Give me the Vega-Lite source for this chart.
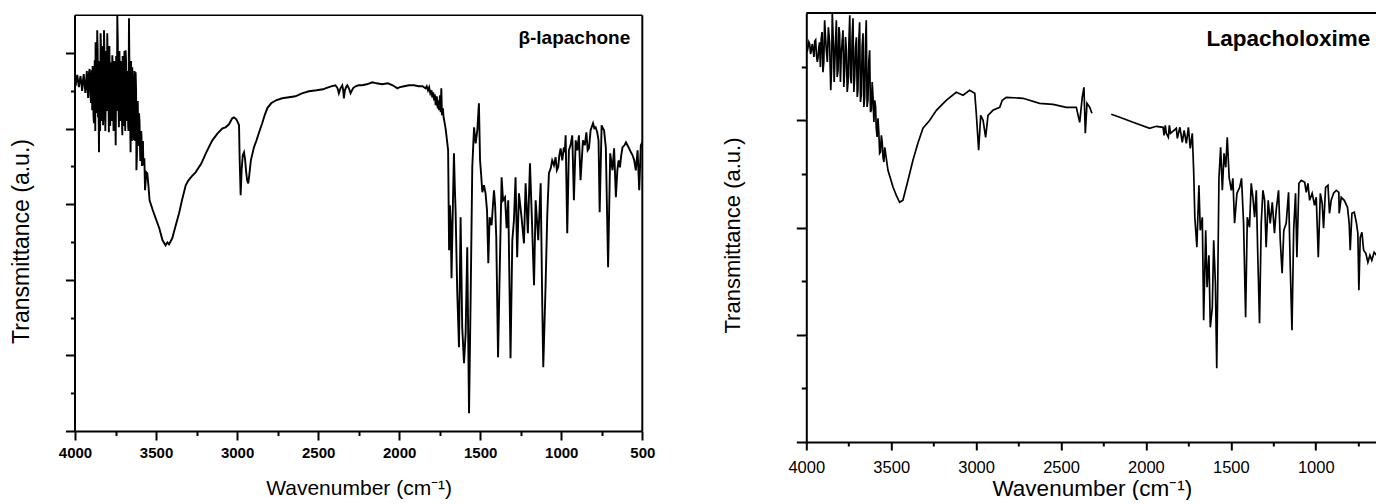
{
  "$schema": "https://vega.github.io/schema/vega-lite/v6.json",
  "background": "white",
  "padding": {"left": 10, "top": 12, "right": 0, "bottom": 0},
  "bounds": "flush",
  "spacing": 163.3,
  "config": {
    "view": {"stroke": null},
    "axis": {"grid": false, "domainColor": "black", "tickColor": "black", "labelColor": "black", "titleColor": "black", "labelFont": "Liberation Sans", "titleFont": "Liberation Sans", "titleFontWeight": "normal", "labelOverlap": false, "labelFlush": false}
  },
  "datasets": {
    "lap": [
      {"wavenumber":4000,"transmittance":350.7},{"wavenumber":3990,"transmittance":352.7},{"wavenumber":3980,"transmittance":348.7},{"wavenumber":3970,"transmittance":350.7},{"wavenumber":3960,"transmittance":346.7},{"wavenumber":3950,"transmittance":351.7},{"wavenumber":3940,"transmittance":344.7},{"wavenumber":3930,"transmittance":352.7},{"wavenumber":3923,"transmittance":342.7},{"wavenumber":3915,"transmittance":356.7},{"wavenumber":3905,"transmittance":335.7},{"wavenumber":3897,"transmittance":360.7},{"wavenumber":3894,"transmittance":320.7},{"wavenumber":3889,"transmittance":350.7},{"wavenumber":3883,"transmittance":307.7},{"wavenumber":3878,"transmittance":370.7},{"wavenumber":3873,"transmittance":388.7},{"wavenumber":3868,"transmittance":330.7},{"wavenumber":3863,"transmittance":400.7},{"wavenumber":3858,"transmittance":313.7},{"wavenumber":3852,"transmittance":278.7},{"wavenumber":3847,"transmittance":360.7},{"wavenumber":3842,"transmittance":397.7},{"wavenumber":3837,"transmittance":325.7},{"wavenumber":3832,"transmittance":370.7},{"wavenumber":3827,"transmittance":305.7},{"wavenumber":3821,"transmittance":400.7},{"wavenumber":3816,"transmittance":340.7},{"wavenumber":3811,"transmittance":323.7},{"wavenumber":3806,"transmittance":365.7},{"wavenumber":3801,"transmittance":397.7},{"wavenumber":3796,"transmittance":335.7},{"wavenumber":3791,"transmittance":298.7},{"wavenumber":3786,"transmittance":358.7},{"wavenumber":3780,"transmittance":330.7},{"wavenumber":3775,"transmittance":368.7},{"wavenumber":3770,"transmittance":375.7},{"wavenumber":3765,"transmittance":320.7},{"wavenumber":3760,"transmittance":355.7},{"wavenumber":3755,"transmittance":310.7},{"wavenumber":3749,"transmittance":285.7},{"wavenumber":3744,"transmittance":350.7},{"wavenumber":3739,"transmittance":415.7},{"wavenumber":3734,"transmittance":335.7},{"wavenumber":3729,"transmittance":303.7},{"wavenumber":3724,"transmittance":360.7},{"wavenumber":3719,"transmittance":367.7},{"wavenumber":3714,"transmittance":325.7},{"wavenumber":3708,"transmittance":295.7},{"wavenumber":3703,"transmittance":352.7},{"wavenumber":3698,"transmittance":330.7},{"wavenumber":3693,"transmittance":365.7},{"wavenumber":3688,"transmittance":380.7},{"wavenumber":3683,"transmittance":315.7},{"wavenumber":3678,"transmittance":345.7},{"wavenumber":3672,"transmittance":305.7},{"wavenumber":3667,"transmittance":412.7},{"wavenumber":3662,"transmittance":320.7},{"wavenumber":3657,"transmittance":278.7},{"wavenumber":3652,"transmittance":340.7},{"wavenumber":3647,"transmittance":363.7},{"wavenumber":3642,"transmittance":310.7},{"wavenumber":3636,"transmittance":290.7},{"wavenumber":3631,"transmittance":345.7},{"wavenumber":3626,"transmittance":358.7},{"wavenumber":3621,"transmittance":260.7},{"wavenumber":3616,"transmittance":320.7},{"wavenumber":3610,"transmittance":300.7},{"wavenumber":3605,"transmittance":317.7},{"wavenumber":3600,"transmittance":290.7},{"wavenumber":3595,"transmittance":277.7},{"wavenumber":3590,"transmittance":295.7},{"wavenumber":3585,"transmittance":287.7},{"wavenumber":3578,"transmittance":265.7},{"wavenumber":3572,"transmittance":272.7},{"wavenumber":3568,"transmittance":240.7},{"wavenumber":3560,"transmittance":258.7},{"wavenumber":3554,"transmittance":257.7},{"wavenumber":3547,"transmittance":245.7},{"wavenumber":3540,"transmittance":230.7},{"wavenumber":3530,"transmittance":225.7},{"wavenumber":3520,"transmittance":220.7},{"wavenumber":3502,"transmittance":212.7},{"wavenumber":3480,"transmittance":202.7},{"wavenumber":3460,"transmittance":190.7},{"wavenumber":3441,"transmittance":185.7},{"wavenumber":3430,"transmittance":188.7},{"wavenumber":3420,"transmittance":186.7},{"wavenumber":3400,"transmittance":192.7},{"wavenumber":3380,"transmittance":204.7},{"wavenumber":3358,"transmittance":217.7},{"wavenumber":3340,"transmittance":230.7},{"wavenumber":3317,"transmittance":245.7},{"wavenumber":3300,"transmittance":250.7},{"wavenumber":3280,"transmittance":254.7},{"wavenumber":3256,"transmittance":258.7},{"wavenumber":3220,"transmittance":267.7},{"wavenumber":3190,"transmittance":278.7},{"wavenumber":3153,"transmittance":290.7},{"wavenumber":3120,"transmittance":297.7},{"wavenumber":3090,"transmittance":302.7},{"wavenumber":3071,"transmittance":303.7},{"wavenumber":3050,"transmittance":306.7},{"wavenumber":3030,"transmittance":312.7},{"wavenumber":3019,"transmittance":313.7},{"wavenumber":3005,"transmittance":311.7},{"wavenumber":2995,"transmittance":308.7},{"wavenumber":2988,"transmittance":305.7},{"wavenumber":2984,"transmittance":270.7},{"wavenumber":2978,"transmittance":235.7},{"wavenumber":2972,"transmittance":260.7},{"wavenumber":2965,"transmittance":275.7},{"wavenumber":2957,"transmittance":278.7},{"wavenumber":2950,"transmittance":270.7},{"wavenumber":2945,"transmittance":260.7},{"wavenumber":2938,"transmittance":250.7},{"wavenumber":2931,"transmittance":247.7},{"wavenumber":2925,"transmittance":255.7},{"wavenumber":2915,"transmittance":270.7},{"wavenumber":2896,"transmittance":283.7},{"wavenumber":2880,"transmittance":290.7},{"wavenumber":2860,"transmittance":300.7},{"wavenumber":2845,"transmittance":307.7},{"wavenumber":2830,"transmittance":315.7},{"wavenumber":2814,"transmittance":322.7},{"wavenumber":2790,"transmittance":327.7},{"wavenumber":2760,"transmittance":330.7},{"wavenumber":2722,"transmittance":332.7},{"wavenumber":2680,"transmittance":333.7},{"wavenumber":2640,"transmittance":334.7},{"wavenumber":2600,"transmittance":337.7},{"wavenumber":2557,"transmittance":339.7},{"wavenumber":2510,"transmittance":340.7},{"wavenumber":2470,"transmittance":341.7},{"wavenumber":2455,"transmittance":342.7},{"wavenumber":2420,"transmittance":344.7},{"wavenumber":2393,"transmittance":345.7},{"wavenumber":2380,"transmittance":342.7},{"wavenumber":2372,"transmittance":337.7},{"wavenumber":2362,"transmittance":342.7},{"wavenumber":2351,"transmittance":345.7},{"wavenumber":2345,"transmittance":340.7},{"wavenumber":2341,"transmittance":332.7},{"wavenumber":2335,"transmittance":340.7},{"wavenumber":2325,"transmittance":344.7},{"wavenumber":2320,"transmittance":345.7},{"wavenumber":2310,"transmittance":342.7},{"wavenumber":2300,"transmittance":337.7},{"wavenumber":2285,"transmittance":342.7},{"wavenumber":2269,"transmittance":344.7},{"wavenumber":2250,"transmittance":345.7},{"wavenumber":2228,"transmittance":345.7},{"wavenumber":2200,"transmittance":346.7},{"wavenumber":2165,"transmittance":348.7},{"wavenumber":2140,"transmittance":347.7},{"wavenumber":2105,"transmittance":346.7},{"wavenumber":2070,"transmittance":347.7},{"wavenumber":2040,"transmittance":345.7},{"wavenumber":2011,"transmittance":342.7},{"wavenumber":2000,"transmittance":343.7},{"wavenumber":1970,"transmittance":344.7},{"wavenumber":1940,"transmittance":345.7},{"wavenumber":1908,"transmittance":345.7},{"wavenumber":1880,"transmittance":344.7},{"wavenumber":1856,"transmittance":344.7},{"wavenumber":1837,"transmittance":342.7},{"wavenumber":1830,"transmittance":344.7},{"wavenumber":1822,"transmittance":340.7},{"wavenumber":1815,"transmittance":343.7},{"wavenumber":1808,"transmittance":337.7},{"wavenumber":1800,"transmittance":340.7},{"wavenumber":1796,"transmittance":333.7},{"wavenumber":1790,"transmittance":338.7},{"wavenumber":1785,"transmittance":330.7},{"wavenumber":1780,"transmittance":336.7},{"wavenumber":1775,"transmittance":325.7},{"wavenumber":1768,"transmittance":334.7},{"wavenumber":1762,"transmittance":322.7},{"wavenumber":1758,"transmittance":330.7},{"wavenumber":1754,"transmittance":320.7},{"wavenumber":1748,"transmittance":335.7},{"wavenumber":1744,"transmittance":318.7},{"wavenumber":1740,"transmittance":342.7},{"wavenumber":1736,"transmittance":315.7},{"wavenumber":1730,"transmittance":322.7},{"wavenumber":1726,"transmittance":313.7},{"wavenumber":1720,"transmittance":308.7},{"wavenumber":1712,"transmittance":300.7},{"wavenumber":1705,"transmittance":290.7},{"wavenumber":1698,"transmittance":280.7},{"wavenumber":1692,"transmittance":180.7},{"wavenumber":1687,"transmittance":225.7},{"wavenumber":1682,"transmittance":207.7},{"wavenumber":1677,"transmittance":152.7},{"wavenumber":1668,"transmittance":230.7},{"wavenumber":1662,"transmittance":277.7},{"wavenumber":1657,"transmittance":245.7},{"wavenumber":1652,"transmittance":220.7},{"wavenumber":1642,"transmittance":140.7},{"wavenumber":1631,"transmittance":83.7},{"wavenumber":1621,"transmittance":213.7},{"wavenumber":1611,"transmittance":103.7},{"wavenumber":1600,"transmittance":67.7},{"wavenumber":1590,"transmittance":97.7},{"wavenumber":1580,"transmittance":183.7},{"wavenumber":1569,"transmittance":17.7},{"wavenumber":1559,"transmittance":133.7},{"wavenumber":1549,"transmittance":263.7},{"wavenumber":1538,"transmittance":303.7},{"wavenumber":1528,"transmittance":287.7},{"wavenumber":1518,"transmittance":300.7},{"wavenumber":1508,"transmittance":327.7},{"wavenumber":1501,"transmittance":270.7},{"wavenumber":1494,"transmittance":255.7},{"wavenumber":1487,"transmittance":238.7},{"wavenumber":1477,"transmittance":245.7},{"wavenumber":1467,"transmittance":237.7},{"wavenumber":1458,"transmittance":220.7},{"wavenumber":1450,"transmittance":167.7},{"wavenumber":1442,"transmittance":213.7},{"wavenumber":1430,"transmittance":205.7},{"wavenumber":1415,"transmittance":240.7},{"wavenumber":1408,"transmittance":225.7},{"wavenumber":1401,"transmittance":193.7},{"wavenumber":1390,"transmittance":73.7},{"wavenumber":1380,"transmittance":157.7},{"wavenumber":1368,"transmittance":253.7},{"wavenumber":1359,"transmittance":230.7},{"wavenumber":1347,"transmittance":233.7},{"wavenumber":1337,"transmittance":202.7},{"wavenumber":1327,"transmittance":230.7},{"wavenumber":1313,"transmittance":72.7},{"wavenumber":1302,"transmittance":190.7},{"wavenumber":1292,"transmittance":210.7},{"wavenumber":1282,"transmittance":253.7},{"wavenumber":1272,"transmittance":173.7},{"wavenumber":1261,"transmittance":237.7},{"wavenumber":1253,"transmittance":225.7},{"wavenumber":1245,"transmittance":213.7},{"wavenumber":1230,"transmittance":187.7},{"wavenumber":1220,"transmittance":247.7},{"wavenumber":1206,"transmittance":197.7},{"wavenumber":1193,"transmittance":267.7},{"wavenumber":1183,"transmittance":220.7},{"wavenumber":1168,"transmittance":145.7},{"wavenumber":1158,"transmittance":230.7},{"wavenumber":1142,"transmittance":190.7},{"wavenumber":1127,"transmittance":247.7},{"wavenumber":1117,"transmittance":123.7},{"wavenumber":1111,"transmittance":63.7},{"wavenumber":1097,"transmittance":143.7},{"wavenumber":1086,"transmittance":217.7},{"wavenumber":1076,"transmittance":257.7},{"wavenumber":1065,"transmittance":262.7},{"wavenumber":1056,"transmittance":270.7},{"wavenumber":1045,"transmittance":265.7},{"wavenumber":1035,"transmittance":273.7},{"wavenumber":1027,"transmittance":260.7},{"wavenumber":1019,"transmittance":263.7},{"wavenumber":1012,"transmittance":275.7},{"wavenumber":1004,"transmittance":282.7},{"wavenumber":994,"transmittance":270.7},{"wavenumber":984,"transmittance":283.7},{"wavenumber":978,"transmittance":278.7},{"wavenumber":973,"transmittance":295.7},{"wavenumber":963,"transmittance":197.7},{"wavenumber":953,"transmittance":280.7},{"wavenumber":943,"transmittance":285.7},{"wavenumber":932,"transmittance":295.7},{"wavenumber":922,"transmittance":230.7},{"wavenumber":911,"transmittance":290.7},{"wavenumber":901,"transmittance":280.7},{"wavenumber":891,"transmittance":295.7},{"wavenumber":881,"transmittance":250.7},{"wavenumber":866,"transmittance":290.7},{"wavenumber":855,"transmittance":285.7},{"wavenumber":845,"transmittance":298.7},{"wavenumber":837,"transmittance":280.7},{"wavenumber":829,"transmittance":282.7},{"wavenumber":819,"transmittance":300.7},{"wavenumber":804,"transmittance":307.7},{"wavenumber":796,"transmittance":302.7},{"wavenumber":788,"transmittance":303.7},{"wavenumber":778,"transmittance":298.7},{"wavenumber":770,"transmittance":290.7},{"wavenumber":763,"transmittance":218.7},{"wavenumber":751,"transmittance":305.7},{"wavenumber":743,"transmittance":302.7},{"wavenumber":736,"transmittance":300.7},{"wavenumber":725,"transmittance":283.7},{"wavenumber":711,"transmittance":163.7},{"wavenumber":698,"transmittance":277.7},{"wavenumber":684,"transmittance":260.7},{"wavenumber":674,"transmittance":282.7},{"wavenumber":663,"transmittance":233.7},{"wavenumber":654,"transmittance":260.7},{"wavenumber":646,"transmittance":270.7},{"wavenumber":638,"transmittance":263.7},{"wavenumber":630,"transmittance":275.7},{"wavenumber":622,"transmittance":283.7},{"wavenumber":610,"transmittance":285.7},{"wavenumber":601,"transmittance":288.7},{"wavenumber":585,"transmittance":283.7},{"wavenumber":570,"transmittance":278.7},{"wavenumber":560,"transmittance":275.7},{"wavenumber":550,"transmittance":270.7},{"wavenumber":540,"transmittance":260.7},{"wavenumber":529,"transmittance":280.7},{"wavenumber":519,"transmittance":240.7},{"wavenumber":509,"transmittance":285.7},{"wavenumber":500,"transmittance":288.7},
      {"wavenumber":3996,"transmittance":345},{"wavenumber":3986,"transmittance":356},{"wavenumber":3976,"transmittance":344},{"wavenumber":3966,"transmittance":355},{"wavenumber":3956,"transmittance":340},{"wavenumber":3946,"transmittance":357},{"wavenumber":3936,"transmittance":338},{"wavenumber":3927,"transmittance":360},{"wavenumber":3919,"transmittance":333},{"wavenumber":3910,"transmittance":362},{"wavenumber":3901,"transmittance":328},{"wavenumber":3891,"transmittance":365},{"wavenumber":3886,"transmittance":315},{"wavenumber":3880,"transmittance":350},{"wavenumber":3875,"transmittance":300},{"wavenumber":3870,"transmittance":365},{"wavenumber":3865,"transmittance":318},{"wavenumber":3860,"transmittance":380},{"wavenumber":3855,"transmittance":330},{"wavenumber":3850,"transmittance":370},{"wavenumber":3845,"transmittance":300},{"wavenumber":3839,"transmittance":380},{"wavenumber":3834,"transmittance":310},{"wavenumber":3829,"transmittance":385},{"wavenumber":3824,"transmittance":320},{"wavenumber":3818,"transmittance":375},{"wavenumber":3813,"transmittance":300},{"wavenumber":3808,"transmittance":380},{"wavenumber":3803,"transmittance":320},{"wavenumber":3798,"transmittance":370},{"wavenumber":3793,"transmittance":330},{"wavenumber":3788,"transmittance":385},{"wavenumber":3783,"transmittance":305},{"wavenumber":3777,"transmittance":345},{"wavenumber":3772,"transmittance":310},{"wavenumber":3767,"transmittance":365},{"wavenumber":3762,"transmittance":300},{"wavenumber":3757,"transmittance":370},{"wavenumber":3752,"transmittance":330},{"wavenumber":3746,"transmittance":375},{"wavenumber":3741,"transmittance":320},{"wavenumber":3736,"transmittance":390},{"wavenumber":3731,"transmittance":320},{"wavenumber":3726,"transmittance":380},{"wavenumber":3721,"transmittance":310},{"wavenumber":3716,"transmittance":370},{"wavenumber":3711,"transmittance":315},{"wavenumber":3706,"transmittance":375},{"wavenumber":3700,"transmittance":305},{"wavenumber":3695,"transmittance":380},{"wavenumber":3690,"transmittance":300},{"wavenumber":3685,"transmittance":370},{"wavenumber":3680,"transmittance":310},{"wavenumber":3675,"transmittance":360},{"wavenumber":3670,"transmittance":300},{"wavenumber":3664,"transmittance":360},{"wavenumber":3659,"transmittance":300},{"wavenumber":3654,"transmittance":370},{"wavenumber":3649,"transmittance":290},{"wavenumber":3644,"transmittance":350},{"wavenumber":3639,"transmittance":300},{"wavenumber":3633,"transmittance":360},{"wavenumber":3628,"transmittance":290},{"wavenumber":3623,"transmittance":340},{"wavenumber":3618,"transmittance":275},{"wavenumber":3613,"transmittance":330},{"wavenumber":3607,"transmittance":285},{"wavenumber":3602,"transmittance":310},{"wavenumber":3597,"transmittance":270},{"wavenumber":3592,"transmittance":300},{"wavenumber":3587,"transmittance":265},{"wavenumber":3581,"transmittance":290}
    ],
    "oxime": [
      {"segment":"A","wavenumber":4000,"transmittance":398.4},{"segment":"A","wavenumber":3990,"transmittance":394.7},{"segment":"A","wavenumber":3980,"transmittance":397.7},{"segment":"A","wavenumber":3970,"transmittance":391.7},{"segment":"A","wavenumber":3961,"transmittance":393.7},{"segment":"A","wavenumber":3950,"transmittance":400.7},{"segment":"A","wavenumber":3940,"transmittance":386.7},{"segment":"A","wavenumber":3931,"transmittance":384.7},{"segment":"A","wavenumber":3922,"transmittance":399.7},{"segment":"A","wavenumber":3912,"transmittance":403.7},{"segment":"A","wavenumber":3902,"transmittance":369.7},{"segment":"A","wavenumber":3892,"transmittance":421.7},{"segment":"A","wavenumber":3882,"transmittance":391.7},{"segment":"A","wavenumber":3870,"transmittance":414.7},{"segment":"A","wavenumber":3856,"transmittance":351.7},{"segment":"A","wavenumber":3847,"transmittance":428.7},{"segment":"A","wavenumber":3840,"transmittance":396.7},{"segment":"A","wavenumber":3833,"transmittance":374.7},{"segment":"A","wavenumber":3823,"transmittance":421.7},{"segment":"A","wavenumber":3813,"transmittance":371.7},{"segment":"A","wavenumber":3804,"transmittance":408.7},{"segment":"A","wavenumber":3794,"transmittance":388.7},{"segment":"A","wavenumber":3784,"transmittance":411.7},{"segment":"A","wavenumber":3774,"transmittance":371.7},{"segment":"A","wavenumber":3764,"transmittance":391.7},{"segment":"A","wavenumber":3754,"transmittance":359.7},{"segment":"A","wavenumber":3744,"transmittance":426.7},{"segment":"A","wavenumber":3735,"transmittance":358.7},{"segment":"A","wavenumber":3725,"transmittance":423.7},{"segment":"A","wavenumber":3715,"transmittance":364.7},{"segment":"A","wavenumber":3705,"transmittance":404.7},{"segment":"A","wavenumber":3696,"transmittance":351.7},{"segment":"A","wavenumber":3686,"transmittance":419.7},{"segment":"A","wavenumber":3676,"transmittance":346.7},{"segment":"A","wavenumber":3666,"transmittance":408.7},{"segment":"A","wavenumber":3656,"transmittance":344.7},{"segment":"A","wavenumber":3647,"transmittance":421.7},{"segment":"A","wavenumber":3637,"transmittance":341.7},{"segment":"A","wavenumber":3627,"transmittance":391.7},{"segment":"A","wavenumber":3617,"transmittance":331.7},{"segment":"A","wavenumber":3607,"transmittance":344.7},{"segment":"A","wavenumber":3597,"transmittance":341.7},{"segment":"A","wavenumber":3588,"transmittance":313.7},{"segment":"A","wavenumber":3578,"transmittance":323.7},{"segment":"A","wavenumber":3568,"transmittance":288.7},{"segment":"A","wavenumber":3558,"transmittance":306.7},{"segment":"A","wavenumber":3548,"transmittance":284.7},{"segment":"A","wavenumber":3538,"transmittance":294.7},{"segment":"A","wavenumber":3519,"transmittance":271.7},{"segment":"A","wavenumber":3489,"transmittance":254.7},{"segment":"A","wavenumber":3470,"transmittance":246.7},{"segment":"A","wavenumber":3450,"transmittance":239.7},{"segment":"A","wavenumber":3431,"transmittance":241.7},{"segment":"A","wavenumber":3401,"transmittance":261.7},{"segment":"A","wavenumber":3372,"transmittance":281.7},{"segment":"A","wavenumber":3343,"transmittance":298.7},{"segment":"A","wavenumber":3313,"transmittance":313.7},{"segment":"A","wavenumber":3273,"transmittance":321.7},{"segment":"A","wavenumber":3234,"transmittance":331.7},{"segment":"A","wavenumber":3176,"transmittance":341.7},{"segment":"A","wavenumber":3117,"transmittance":349.7},{"segment":"A","wavenumber":3077,"transmittance":346.7},{"segment":"A","wavenumber":3038,"transmittance":351.7},{"segment":"A","wavenumber":3008,"transmittance":348.7},{"segment":"A","wavenumber":2999,"transmittance":328.7},{"segment":"A","wavenumber":2985,"transmittance":291.7},{"segment":"A","wavenumber":2973,"transmittance":326.7},{"segment":"A","wavenumber":2959,"transmittance":321.7},{"segment":"A","wavenumber":2944,"transmittance":304.7},{"segment":"A","wavenumber":2930,"transmittance":326.7},{"segment":"A","wavenumber":2901,"transmittance":331.7},{"segment":"A","wavenumber":2861,"transmittance":334.7},{"segment":"A","wavenumber":2846,"transmittance":341.7},{"segment":"A","wavenumber":2822,"transmittance":344.7},{"segment":"A","wavenumber":2724,"transmittance":343.7},{"segment":"A","wavenumber":2705,"transmittance":342.7},{"segment":"A","wavenumber":2626,"transmittance":338.7},{"segment":"A","wavenumber":2547,"transmittance":337.7},{"segment":"A","wavenumber":2469,"transmittance":334.7},{"segment":"A","wavenumber":2410,"transmittance":334.7},{"segment":"A","wavenumber":2390,"transmittance":319.7},{"segment":"A","wavenumber":2375,"transmittance":344.7},{"segment":"A","wavenumber":2365,"transmittance":354.7},{"segment":"A","wavenumber":2357,"transmittance":308.7},{"segment":"A","wavenumber":2347,"transmittance":338.7},{"segment":"A","wavenumber":2331,"transmittance":334.7},{"segment":"A","wavenumber":2318,"transmittance":328.7},
      {"segment":"A","wavenumber":3995,"transmittance":390},{"segment":"A","wavenumber":3985,"transmittance":400},{"segment":"A","wavenumber":3975,"transmittance":388},{"segment":"A","wavenumber":3965,"transmittance":398},{"segment":"A","wavenumber":3955,"transmittance":385},{"segment":"A","wavenumber":3945,"transmittance":402},{"segment":"A","wavenumber":3935,"transmittance":380},{"segment":"A","wavenumber":3926,"transmittance":395},{"segment":"A","wavenumber":3917,"transmittance":375},{"segment":"A","wavenumber":3907,"transmittance":410},{"segment":"A","wavenumber":3897,"transmittance":380},{"segment":"A","wavenumber":3887,"transmittance":405},{"segment":"A","wavenumber":3876,"transmittance":380},{"segment":"A","wavenumber":3863,"transmittance":400},{"segment":"A","wavenumber":3851,"transmittance":375},{"segment":"A","wavenumber":3843,"transmittance":410},{"segment":"A","wavenumber":3836,"transmittance":360},{"segment":"A","wavenumber":3828,"transmittance":400},{"segment":"A","wavenumber":3818,"transmittance":365},{"segment":"A","wavenumber":3808,"transmittance":415},{"segment":"A","wavenumber":3799,"transmittance":360},{"segment":"A","wavenumber":3789,"transmittance":400},{"segment":"A","wavenumber":3779,"transmittance":355},{"segment":"A","wavenumber":3769,"transmittance":405},{"segment":"A","wavenumber":3759,"transmittance":350},{"segment":"A","wavenumber":3749,"transmittance":400},{"segment":"A","wavenumber":3740,"transmittance":365},{"segment":"A","wavenumber":3730,"transmittance":405},{"segment":"A","wavenumber":3720,"transmittance":350},{"segment":"A","wavenumber":3710,"transmittance":395},{"segment":"A","wavenumber":3700,"transmittance":345},{"segment":"A","wavenumber":3691,"transmittance":400},{"segment":"A","wavenumber":3681,"transmittance":340},{"segment":"A","wavenumber":3671,"transmittance":395},{"segment":"A","wavenumber":3661,"transmittance":335},{"segment":"A","wavenumber":3651,"transmittance":400},{"segment":"A","wavenumber":3642,"transmittance":335},{"segment":"A","wavenumber":3632,"transmittance":380},{"segment":"A","wavenumber":3622,"transmittance":330},{"segment":"A","wavenumber":3612,"transmittance":360},{"segment":"A","wavenumber":3602,"transmittance":320},{"segment":"A","wavenumber":3592,"transmittance":335},{"segment":"A","wavenumber":3583,"transmittance":305},{"segment":"A","wavenumber":3573,"transmittance":310},{"segment":"A","wavenumber":3563,"transmittance":290},{"segment":"A","wavenumber":3553,"transmittance":300},{"segment":"A","wavenumber":3543,"transmittance":280},
      {"segment":"B","wavenumber":2204,"transmittance":327.7},{"segment":"B","wavenumber":2154,"transmittance":324.7},{"segment":"B","wavenumber":2076,"transmittance":319.7},{"segment":"B","wavenumber":1978,"transmittance":313.7},{"segment":"B","wavenumber":1939,"transmittance":315.7},{"segment":"B","wavenumber":1899,"transmittance":314.7},{"segment":"B","wavenumber":1893,"transmittance":306.7},{"segment":"B","wavenumber":1886,"transmittance":316.7},{"segment":"B","wavenumber":1880,"transmittance":308.7},{"segment":"B","wavenumber":1868,"transmittance":304.7},{"segment":"B","wavenumber":1862,"transmittance":316.7},{"segment":"B","wavenumber":1855,"transmittance":308.7},{"segment":"B","wavenumber":1821,"transmittance":313.7},{"segment":"B","wavenumber":1815,"transmittance":303.7},{"segment":"B","wavenumber":1800,"transmittance":314.7},{"segment":"B","wavenumber":1786,"transmittance":299.7},{"segment":"B","wavenumber":1775,"transmittance":311.7},{"segment":"B","wavenumber":1762,"transmittance":298.7},{"segment":"B","wavenumber":1750,"transmittance":314.7},{"segment":"B","wavenumber":1739,"transmittance":293.7},{"segment":"B","wavenumber":1727,"transmittance":308.7},{"segment":"B","wavenumber":1719,"transmittance":271.7},{"segment":"B","wavenumber":1712,"transmittance":224.7},{"segment":"B","wavenumber":1700,"transmittance":194.7},{"segment":"B","wavenumber":1688,"transmittance":256.7},{"segment":"B","wavenumber":1680,"transmittance":211.7},{"segment":"B","wavenumber":1668,"transmittance":224.7},{"segment":"B","wavenumber":1660,"transmittance":121.7},{"segment":"B","wavenumber":1648,"transmittance":211.7},{"segment":"B","wavenumber":1640,"transmittance":154.7},{"segment":"B","wavenumber":1629,"transmittance":186.7},{"segment":"B","wavenumber":1621,"transmittance":114.7},{"segment":"B","wavenumber":1609,"transmittance":134.7},{"segment":"B","wavenumber":1601,"transmittance":201.7},{"segment":"B","wavenumber":1591,"transmittance":158.7},{"segment":"B","wavenumber":1583,"transmittance":73.7},{"segment":"B","wavenumber":1576,"transmittance":174.7},{"segment":"B","wavenumber":1570,"transmittance":263.7},{"segment":"B","wavenumber":1560,"transmittance":294.7},{"segment":"B","wavenumber":1550,"transmittance":251.7},{"segment":"B","wavenumber":1540,"transmittance":288.7},{"segment":"B","wavenumber":1530,"transmittance":274.7},{"segment":"B","wavenumber":1521,"transmittance":304.7},{"segment":"B","wavenumber":1510,"transmittance":264.7},{"segment":"B","wavenumber":1497,"transmittance":251.7},{"segment":"B","wavenumber":1488,"transmittance":263.7},{"segment":"B","wavenumber":1478,"transmittance":218.7},{"segment":"B","wavenumber":1464,"transmittance":248.7},{"segment":"B","wavenumber":1448,"transmittance":254.7},{"segment":"B","wavenumber":1437,"transmittance":263.7},{"segment":"B","wavenumber":1425,"transmittance":218.7},{"segment":"B","wavenumber":1413,"transmittance":124.7},{"segment":"B","wavenumber":1403,"transmittance":224.7},{"segment":"B","wavenumber":1390,"transmittance":214.7},{"segment":"B","wavenumber":1380,"transmittance":258.7},{"segment":"B","wavenumber":1370,"transmittance":244.7},{"segment":"B","wavenumber":1360,"transmittance":224.7},{"segment":"B","wavenumber":1350,"transmittance":251.7},{"segment":"B","wavenumber":1341,"transmittance":184.7},{"segment":"B","wavenumber":1331,"transmittance":118.7},{"segment":"B","wavenumber":1321,"transmittance":218.7},{"segment":"B","wavenumber":1311,"transmittance":251.7},{"segment":"B","wavenumber":1301,"transmittance":241.7},{"segment":"B","wavenumber":1292,"transmittance":194.7},{"segment":"B","wavenumber":1280,"transmittance":241.7},{"segment":"B","wavenumber":1268,"transmittance":218.7},{"segment":"B","wavenumber":1256,"transmittance":239.7},{"segment":"B","wavenumber":1243,"transmittance":208.7},{"segment":"B","wavenumber":1233,"transmittance":231.7},{"segment":"B","wavenumber":1219,"transmittance":251.7},{"segment":"B","wavenumber":1209,"transmittance":201.7},{"segment":"B","wavenumber":1198,"transmittance":168.7},{"segment":"B","wavenumber":1188,"transmittance":211.7},{"segment":"B","wavenumber":1174,"transmittance":218.7},{"segment":"B","wavenumber":1160,"transmittance":249.7},{"segment":"B","wavenumber":1150,"transmittance":174.7},{"segment":"B","wavenumber":1140,"transmittance":111.7},{"segment":"B","wavenumber":1130,"transmittance":211.7},{"segment":"B","wavenumber":1119,"transmittance":248.7},{"segment":"B","wavenumber":1111,"transmittance":184.7},{"segment":"B","wavenumber":1099,"transmittance":258.7},{"segment":"B","wavenumber":1085,"transmittance":261.7},{"segment":"B","wavenumber":1065,"transmittance":259.7},{"segment":"B","wavenumber":1056,"transmittance":249.7},{"segment":"B","wavenumber":1046,"transmittance":258.7},{"segment":"B","wavenumber":1036,"transmittance":241.7},{"segment":"B","wavenumber":1021,"transmittance":248.7},{"segment":"B","wavenumber":1007,"transmittance":236.7},{"segment":"B","wavenumber":997,"transmittance":244.7},{"segment":"B","wavenumber":985,"transmittance":184.7},{"segment":"B","wavenumber":973,"transmittance":248.7},{"segment":"B","wavenumber":962,"transmittance":238.7},{"segment":"B","wavenumber":954,"transmittance":213.7},{"segment":"B","wavenumber":942,"transmittance":254.7},{"segment":"B","wavenumber":928,"transmittance":256.7},{"segment":"B","wavenumber":919,"transmittance":228.7},{"segment":"B","wavenumber":909,"transmittance":241.7},{"segment":"B","wavenumber":895,"transmittance":248.7},{"segment":"B","wavenumber":879,"transmittance":251.7},{"segment":"B","wavenumber":864,"transmittance":249.7},{"segment":"B","wavenumber":862,"transmittance":228.7},{"segment":"B","wavenumber":850,"transmittance":244.7},{"segment":"B","wavenumber":832,"transmittance":241.7},{"segment":"B","wavenumber":813,"transmittance":234.7},{"segment":"B","wavenumber":803,"transmittance":218.7},{"segment":"B","wavenumber":797,"transmittance":191.7},{"segment":"B","wavenumber":787,"transmittance":228.7},{"segment":"B","wavenumber":773,"transmittance":229.7},{"segment":"B","wavenumber":760,"transmittance":218.7},{"segment":"B","wavenumber":752,"transmittance":208.7},{"segment":"B","wavenumber":746,"transmittance":151.7},{"segment":"B","wavenumber":738,"transmittance":204.7},{"segment":"B","wavenumber":728,"transmittance":209.7},{"segment":"B","wavenumber":718,"transmittance":191.7},{"segment":"B","wavenumber":705,"transmittance":188.7},{"segment":"B","wavenumber":693,"transmittance":179.7},{"segment":"B","wavenumber":681,"transmittance":186.7},{"segment":"B","wavenumber":670,"transmittance":181.7},{"segment":"B","wavenumber":656,"transmittance":189.7},{"segment":"B","wavenumber":642,"transmittance":186.7},{"segment":"B","wavenumber":630,"transmittance":183.7}
    ],
    "labels": [
      {"panel":"left","name":"β-lapachone","wavenumber":574,"transmittance":392.7},
      {"panel":"right","name":"Lapacholoxime","wavenumber":679,"transmittance":402.7}
    ]
  },
  "hconcat": [
    {
      "width": 567.3,
      "height": 418,
      "layer": [
        {
          "data": {"name": "lap"},
          "mark": {"type": "line", "color": "black", "strokeWidth": 1.9, "clip": true},
          "encoding": {
            "x": {"field": "wavenumber", "type": "quantitative",
              "scale": {"domain": [500, 4000], "reverse": true, "nice": false, "zero": false},
              "axis": {"values": [500,750,1000,1250,1500,1750,2000,2250,2500,2750,3000,3250,3500,3750,4000],
                "labelExpr": "datum.value % 500 === 0 ? datum.label : ''",
                "format": "d",
                "tickSize": {"condition": {"test": "datum.value % 500 === 0", "value": 9}, "value": 4.5},
                "tickWidth": 2, "domainWidth": 2,
                "labelFontWeight": "bold", "labelFontSize": 15, "labelPadding": 5,
                "title": "Wavenumber (cm⁻¹)", "titleFontSize": 21, "titlePadding": 17}},
            "y": {"field": "transmittance", "type": "quantitative",
              "scale": {"domain": [0, 418], "nice": false, "zero": false},
              "axis": {"values": [0,37.8,75.6,113.4,151.2,189,226.8,264.6,302.4,340.2,378],
                "labels": false, "domain": false,
                "tickSize": {"condition": {"test": "round(datum.value/37.8) % 2 === 0", "value": 9.5}, "value": 4.5},
                "tickWidth": 2,
                "title": "Transmittance (a.u.)", "titleFontSize": 23, "titlePadding": 31, "titleY": 228}}
          }
        },
        {
          "data": {"values": [{}]},
          "mark": {"type": "rule", "color": "black", "strokeWidth": 2},
          "encoding": {"x": {"datum": 4000}, "y": {"datum": 0}, "y2": {"datum": 415.7}}
        },
        {
          "data": {"values": [{}]},
          "mark": {"type": "rule", "color": "black", "strokeWidth": 2},
          "encoding": {"x": {"datum": 500}, "y": {"datum": 0}, "y2": {"datum": 415.7}}
        },
        {
          "data": {"values": [{}]},
          "mark": {"type": "rule", "color": "black", "strokeWidth": 1.6},
          "encoding": {"y": {"datum": 415.7}}
        },
        {
          "data": {"name": "labels"},
          "transform": [{"filter": "datum.panel === 'left'"}],
          "mark": {"type": "text", "align": "right", "baseline": "middle", "font": "Liberation Sans", "fontWeight": "bold", "fontSize": 19, "color": "black"},
          "encoding": {
            "x": {"field": "wavenumber", "type": "quantitative"},
            "y": {"field": "transmittance", "type": "quantitative"},
            "text": {"field": "name"}
          }
        }
      ]
    },
    {
      "width": 571,
      "height": 429,
      "layer": [
        {
          "data": {"name": "oxime"},
          "mark": {"type": "line", "color": "black", "strokeWidth": 1.7, "clip": true},
          "encoding": {
            "x": {"field": "wavenumber", "type": "quantitative",
              "scale": {"domain": [637.5, 4000], "reverse": true, "nice": false, "zero": false},
              "axis": {"values": [750,1000,1250,1500,1750,2000,2250,2500,2750,3000,3250,3500,3750,4000],
                "labelExpr": "datum.value % 500 === 0 ? datum.label : ''",
                "format": "d",
                "tickSize": {"condition": {"test": "datum.value % 500 === 0", "value": 8}, "value": 4},
                "tickWidth": 2, "domainWidth": 2,
                "labelFontSize": 16.5, "labelPadding": 9,
                "title": "Wavenumber (cm⁻¹)", "titleFontSize": 22.5, "titlePadding": 2}},
            "y": {"field": "transmittance", "type": "quantitative",
              "scale": {"domain": [0, 429], "nice": false, "zero": false},
              "axis": {"values": [0,53.6,107.2,160.8,214.4,268,321.6,375.2],
                "labels": false, "domainWidth": 2,
                "tickSize": {"condition": {"test": "round(datum.value/53.6) % 2 === 0", "value": 10}, "value": 5},
                "tickWidth": 2,
                "title": "Transmittance (a.u.)", "titleFontSize": 22, "titlePadding": 51, "titleY": 222}},
            "detail": {"field": "segment", "type": "nominal"}
          }
        },
        {
          "data": {"values": [{}]},
          "mark": {"type": "rule", "color": "black", "strokeWidth": 2},
          "encoding": {"y": {"datum": 429}}
        },
        {
          "data": {"name": "labels"},
          "transform": [{"filter": "datum.panel === 'right'"}],
          "mark": {"type": "text", "align": "right", "baseline": "middle", "font": "Liberation Sans", "fontWeight": "bold", "fontSize": 22.5, "color": "black"},
          "encoding": {
            "x": {"field": "wavenumber", "type": "quantitative"},
            "y": {"field": "transmittance", "type": "quantitative"},
            "text": {"field": "name"}
          }
        }
      ]
    }
  ]
}
